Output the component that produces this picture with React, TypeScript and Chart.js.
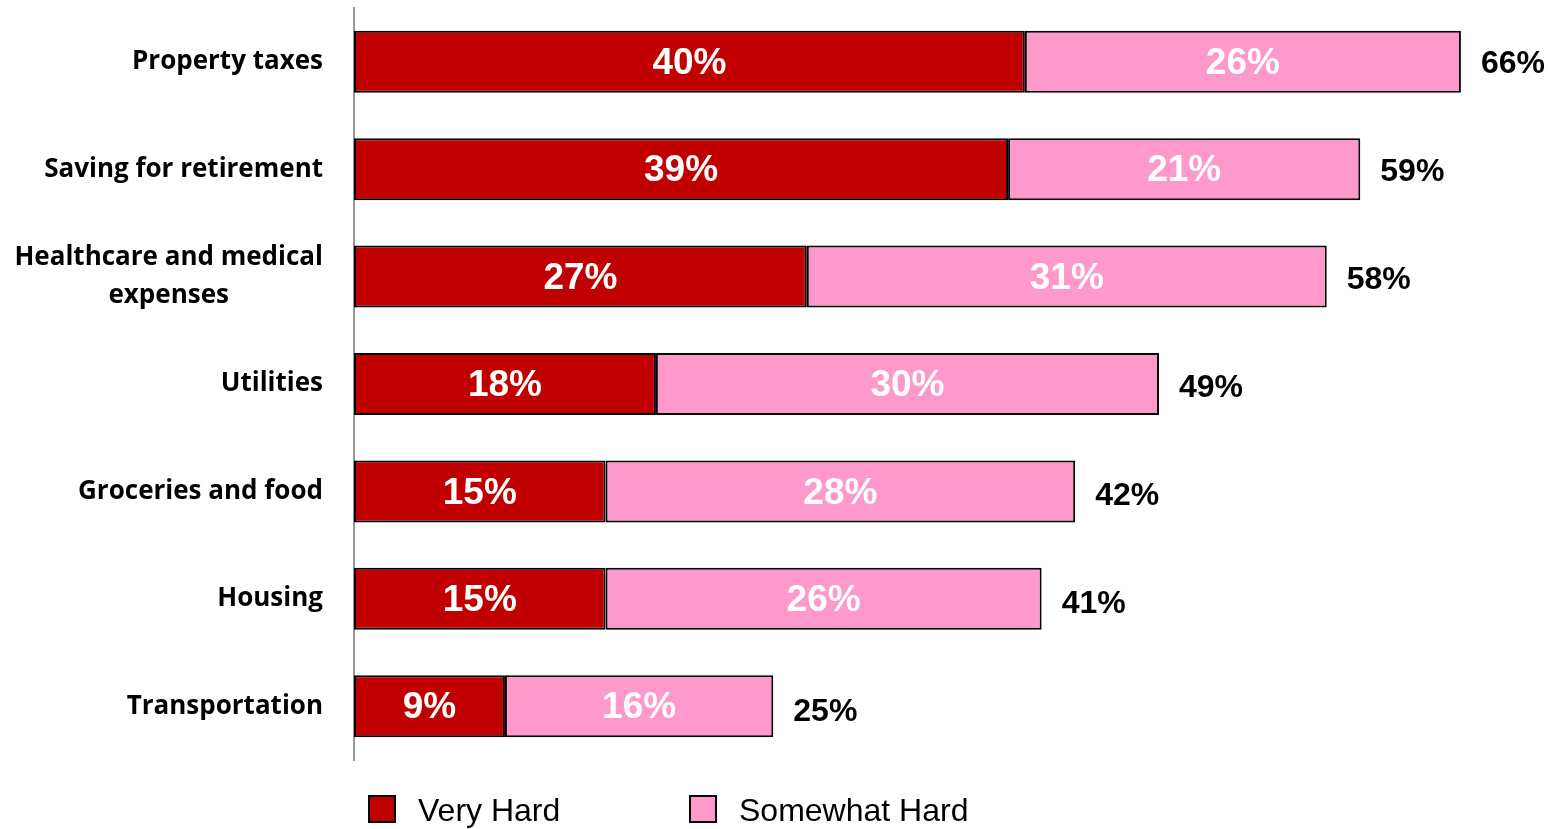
import React, { useEffect, useRef } from "react";
import { Chart, registerables } from "chart.js";

Chart.register(...registerables);

const categories: string[][] = [
  ["Property taxes"],
  ["Saving for retirement"],
  ["Healthcare and medical", "expenses"],
  ["Utilities"],
  ["Groceries and food"],
  ["Housing"],
  ["Transportation"],
];
const veryHard = [40, 39, 27, 18, 15, 15, 9];
const somewhatHard = [26, 21, 31, 30, 28, 26, 16];
const totals = [66, 59, 58, 49, 42, 41, 25];
const seriesNames = ["Very Hard", "Somewhat Hard"];
const seriesColors = ["#C00000", "#FF99CC"];

const LABEL_FONT = "bold 26px 'Open Sans', Lato, sans-serif";
const VALUE_FONT = "bold 37px 'Liberation Sans', Arial, sans-serif";
const TOTAL_FONT = "bold 32px 'Liberation Sans', Arial, sans-serif";
const LEGEND_FONT = "32px 'Liberation Sans', Arial, sans-serif";

const overlayPlugin = {
  id: "overlay",
  afterDatasetsDraw(chart: any) {
    const ctx = chart.ctx as CanvasRenderingContext2D;
    const yScale = chart.scales.y;
    const area = chart.chartArea;
    ctx.save();
    // category labels
    ctx.font = LABEL_FONT;
    ctx.fillStyle = "#000";
    ctx.textBaseline = "middle";
    categories.forEach((lines, i) => {
      const cy = yScale.getPixelForValue(i);
      const lh = 38;
      let maxW = 0;
      lines.forEach((l) => (maxW = Math.max(maxW, ctx.measureText(l).width)));
      const right = area.left - 31;
      lines.forEach((l, j) => {
        const y = cy + (j - (lines.length - 1) / 2) * lh;
        ctx.textAlign = "center";
        ctx.fillText(l, right - maxW / 2, y);
      });
    });
    // value labels
    chart.data.datasets.forEach((ds: any, di: number) => {
      const meta = chart.getDatasetMeta(di);
      meta.data.forEach((bar: any, i: number) => {
        const { x, base, y } = bar.getProps(["x", "base", "y"], true);
        ctx.font = VALUE_FONT;
        ctx.fillStyle = "#fff";
        ctx.textAlign = "center";
        ctx.textBaseline = "middle";
        ctx.fillText(ds.data[i] + "%", (x + base) / 2, y + 2);
      });
    });
    // totals
    const lastMeta = chart.getDatasetMeta(chart.data.datasets.length - 1);
    lastMeta.data.forEach((bar: any, i: number) => {
      const { x, y } = bar.getProps(["x", "y"], true);
      ctx.font = TOTAL_FONT;
      ctx.fillStyle = "#000";
      ctx.textAlign = "left";
      ctx.textBaseline = "middle";
      ctx.fillText(totals[i] + "%", x + 20, y + 2 + i * 0.6);
    });
    // legend
    const legendX = [369, 690];
    const boxY = 796;
    ctx.font = LEGEND_FONT;
    seriesNames.forEach((name, i) => {
      ctx.fillStyle = seriesColors[i];
      ctx.fillRect(legendX[i], boxY, 26, 26);
      ctx.strokeStyle = "#000";
      ctx.lineWidth = 2;
      ctx.strokeRect(legendX[i], boxY, 26, 26);
      ctx.fillStyle = "#000";
      ctx.textAlign = "left";
      ctx.textBaseline = "middle";
      ctx.fillText(name, legendX[i] + 49, boxY + 16);
    });
    ctx.restore();
  },
};

export default function App() {
  const ref = useRef<HTMLCanvasElement | null>(null);
  useEffect(() => {
    document.body.style.margin = "0";
    document.body.style.overflow = "hidden";
    if (!ref.current) return;
    const chart = new Chart(ref.current, {
      type: "bar",
      data: {
        labels: categories.map((c) => c.join(" ")),
        datasets: [
          {
            label: seriesNames[0],
            data: veryHard,
            backgroundColor: seriesColors[0],
            borderColor: "#000",
            borderWidth: 2,
            borderSkipped: false,
            barPercentage: 1,
            categoryPercentage: 0.577,
          },
          {
            label: seriesNames[1],
            data: somewhatHard,
            backgroundColor: seriesColors[1],
            borderColor: "#000",
            borderWidth: 2,
            borderSkipped: false,
            barPercentage: 1,
            categoryPercentage: 0.577,
          },
        ],
      },
      options: {
        indexAxis: "y",
        animation: false,
        responsive: true,
        maintainAspectRatio: false,
        layout: { padding: { left: 354, right: 20, top: 8, bottom: 69 } },
        plugins: {
          legend: { display: false },
          tooltip: { enabled: false },
        },
        scales: {
          x: {
            stacked: true,
            min: 0,
            max: 70,
            display: false,
          },
          y: {
            stacked: true,
            grid: { display: false, drawTicks: false },
            border: { display: true, color: "#999", width: 2 },
            ticks: { display: false, padding: 0 },
            afterFit: (s: any) => {
              s.width = 0;
            },
          },
        },
      },
      plugins: [overlayPlugin],
    });
    return () => chart.destroy();
  }, []);
  return (
    <div style={{ width: 1548, height: 829, position: "relative" }}>
      <canvas ref={ref} />
    </div>
  );
}
